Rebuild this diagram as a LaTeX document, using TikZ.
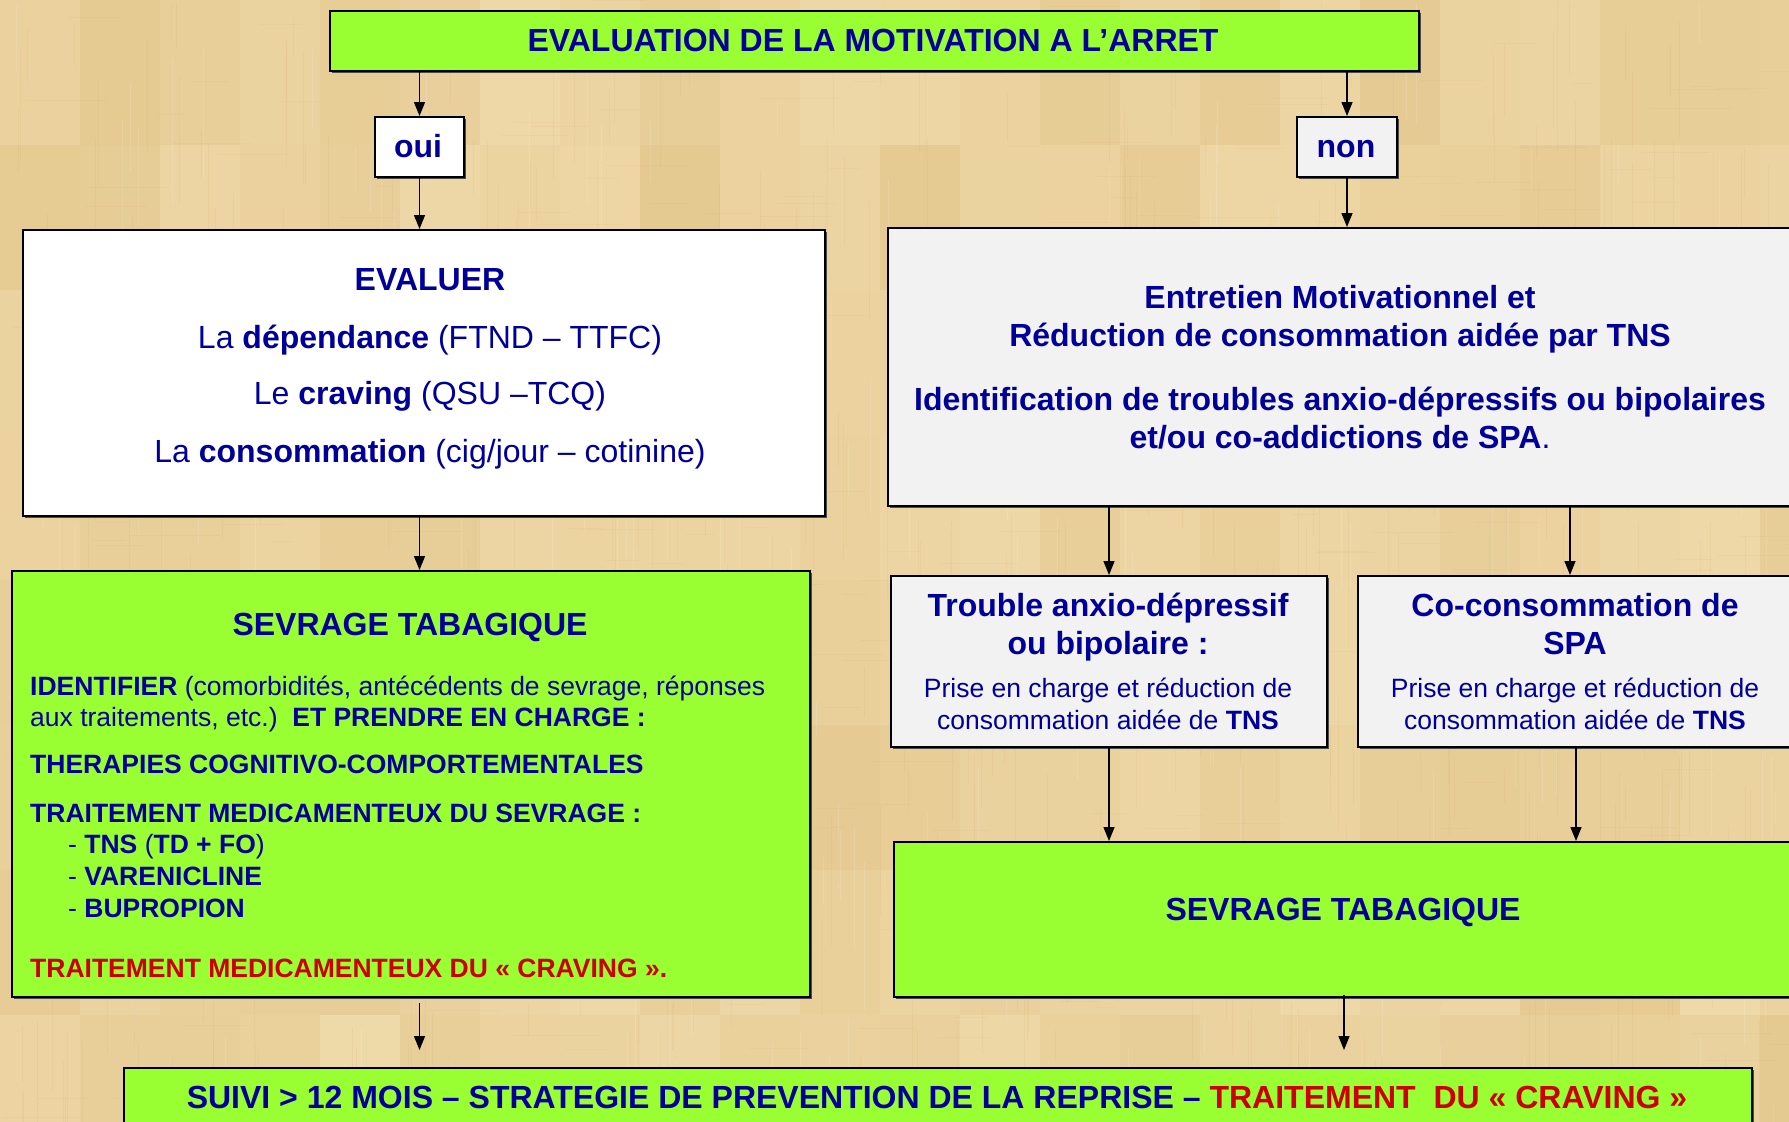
\documentclass[tikz,border=0pt]{standalone}
\usepackage{fontspec}
\setmainfont{Liberation Sans}
\usetikzlibrary{arrows.meta,shadows}

\definecolor{navy}{HTML}{000099}
\definecolor{crimson}{HTML}{CC0000}
\definecolor{lime}{HTML}{99FF33}
\definecolor{paleGray}{HTML}{F2F2F2}
\definecolor{paper}{HTML}{EBD29E}
\definecolor{paperLight}{HTML}{F5E3B8}
\definecolor{paperDark}{HTML}{DDBE80}

\tikzset{
  box/.style={draw=black, line width=2pt, rectangle, inner sep=0pt, anchor=north west,
              drop shadow={shadow xshift=1.5pt, shadow yshift=-2pt, fill=black!70, opacity=1}},
  arr/.style={line width=1.4pt, -{Triangle[length=14pt,width=11pt]}},
  title/.style={text=navy, font=\fontsize{32}{38}\selectfont\bfseries, anchor=base, inner sep=0pt},
  body/.style={text=navy, font=\fontsize{32}{38}\selectfont, anchor=base, inner sep=0pt},
  head/.style={text=navy, font=\fontsize{32}{38}\selectfont\bfseries, anchor=base, inner sep=0pt},
  small/.style={text=navy, font=\fontsize{26.5}{31}\selectfont, anchor=base, inner sep=0pt},
  smallB/.style={small, font=\fontsize{26.5}{31}\selectfont\bfseries},
  smallL/.style={small, anchor=base west},
}

\begin{document}
\begin{tikzpicture}[x=1pt, y=-1pt]
\useasboundingbox (0,0) rectangle (1789,1122);
\clip (0,0) rectangle (1789,1122);

% woven paper background
\fill[paper] (0,0) rectangle (1789,1122);
\pgfmathsetseed{11}
\foreach \i in {0,...,22}{
  \foreach \j in {0,...,7}{
    \pgfmathrandominteger{\t}{0}{100}
    \pgfmathsetmacro{\op}{0.15+0.35*rnd}
    \fill[paperLight!\t!paperDark, opacity=\op] (\i*80,\j*145) rectangle ++(80,145);
  }
}
\foreach \k in {1,...,700}{
  \pgfmathsetmacro{\xx}{1789*rnd}
  \pgfmathsetmacro{\yy}{1122*rnd}
  \pgfmathsetmacro{\ll}{30+120*rnd}
  \pgfmathrandominteger{\c}{0}{2}
  \ifnum\c=0
    \draw[white, opacity=0.12, line width=0.8pt] (\xx,\yy) -- ++(0,\ll);
  \else
    \draw[paperDark!75!brown, opacity=0.14, line width=0.8pt] (\xx,\yy) -- ++(0,\ll);
  \fi
}
\foreach \k in {1,...,350}{
  \pgfmathsetmacro{\xx}{1789*rnd}
  \pgfmathsetmacro{\yy}{1122*rnd}
  \pgfmathsetmacro{\ll}{20+70*rnd}
  \draw[paperDark!75!brown, opacity=0.12, line width=0.8pt] (\xx,\yy) -- ++(\ll,0);
}

% boxes
\node[box, fill=lime, minimum width=1089pt, minimum height=60pt] (top) at (329,10) {};
\node[box, fill=white, minimum width=89pt, minimum height=60pt] (oui) at (374,116) {};
\node[box, fill=paleGray, minimum width=100pt, minimum height=60pt] (non) at (1296,116) {};
\node[box, fill=white, minimum width=802pt, minimum height=286pt] (eval) at (22,229) {};
\node[box, fill=paleGray, minimum width=920pt, minimum height=278pt] (entr) at (887,227) {};
\node[box, fill=lime, minimum width=798pt, minimum height=426pt] (sevL) at (11,570) {};
\node[box, fill=paleGray, minimum width=436pt, minimum height=171pt] (trouble) at (890,575) {};
\node[box, fill=paleGray, minimum width=436pt, minimum height=171pt] (coco) at (1357,575) {};
\node[box, fill=lime, minimum width=900pt, minimum height=155pt] (sevR) at (893,841) {};
\node[box, fill=lime, minimum width=1628pt, minimum height=80pt] (suivi) at (123,1067) {};

% connectors
\draw[arr] (oui.north |- top.south) -- (oui.north);
\draw[arr] (non.north |- top.south) -- (non.north);
\draw[arr] (oui.south) -- (oui.south |- eval.north);
\draw[arr] (non.south) -- (non.south |- entr.north);
\draw[arr] (oui.south |- eval.south) -- (oui.south |- sevL.north);
\draw[arr] (trouble.north |- entr.south) -- (trouble.north);
\draw[arr] ([xshift=-6pt]coco.north |- entr.south) -- ([xshift=-6pt]coco.north);
\draw[arr] (trouble.south) -- (trouble.south |- sevR.north);
\draw[arr] (coco.south) -- (coco.south |- sevR.north);
\draw[arr, shorten <=5pt, shorten >=17pt] (oui.south |- sevL.south) -- (oui.south |- suivi.north);
\draw[arr, shorten <=-3pt, shorten >=17pt] (sevR.south) -- (sevR.south |- suivi.north);

% texts
\node[title] (tTop) at (873,51) {EVALUATION DE LA MOTIVATION A L’ARRET};
\node[title] (tOui) at (418,157) {oui};
\node[title] (tNon) at (1346,157) {non};

\node[title] (tEval) at (430,290) {EVALUER};
\node[body] (tEval1) at (430,348) {La \textbf{dépendance} (FTND – TTFC)};
\node[body] (tEval2) at (430,404) {Le \textbf{craving} (QSU –TCQ)};
\node[body] (tEval3) at (430,462) {La \textbf{consommation} (cig/jour – cotinine)};

\node[title] (tEntr1) at (1340,308) {Entretien Motivationnel et};
\node[title] (tEntr2) at (1340,346) {Réduction de consommation aidée par TNS};
\node[title] (tEntr3) at (1340,410) {Identification de troubles anxio-dépressifs ou bipolaires};
\node[title] (tEntr4) at (1340,448) {et/ou co-addictions de SPA\textmd{.}};

\node[head] (tTr1) at (1108,616) {Trouble anxio-dépressif};
\node[head] (tTr2) at (1108,654) {ou bipolaire :};
\node[small] (tTr3) at (1108,697) {Prise en charge et réduction de};
\node[small] (tTr4) at (1108,729) {consommation aidée de \textbf{TNS}};

\node[head] (tCo1) at (1575,616) {Co-consommation de};
\node[head] (tCo2) at (1575,654) {SPA};
\node[small] (tCo3) at (1575,697) {Prise en charge et réduction de};
\node[small] (tCo4) at (1575,729) {consommation aidée de \textbf{TNS}};

\node[head] (tSevL) at (410,635) {SEVRAGE TABAGIQUE};
\node[smallL] (tS1) at (30,695) {\textbf{IDENTIFIER} (comorbidités, antécédents de sevrage, réponses};
\node[smallL] (tS2) at (30,726) {aux traitements, etc.)\ \ \textbf{ET PRENDRE EN CHARGE :}};
\node[smallB, anchor=base west] (tS3) at (30,773) {THERAPIES COGNITIVO-COMPORTEMENTALES};
\node[smallB, anchor=base west] (tS4) at (30,822) {TRAITEMENT MEDICAMENTEUX DU SEVRAGE :};
\node[smallL] (tS5) at (68,853) {- \textbf{TNS} (\textbf{TD + FO})};
\node[smallL] (tS6) at (68,885) {- \textbf{VARENICLINE}};
\node[smallL] (tS7) at (68,917) {- \textbf{BUPROPION}};
\node[smallB, anchor=base west, text=crimson] (tS8) at (30,977) {TRAITEMENT MEDICAMENTEUX DU «~CRAVING~».};

\node[head] (tSevR) at (1343,920) {SEVRAGE TABAGIQUE};

\node[head] (tSuivi) at (937,1108) {SUIVI > 12 MOIS – STRATEGIE DE PREVENTION DE LA REPRISE – \textcolor{crimson}{TRAITEMENT\ \ DU «~CRAVING~»}};
\end{tikzpicture}
\end{document}
